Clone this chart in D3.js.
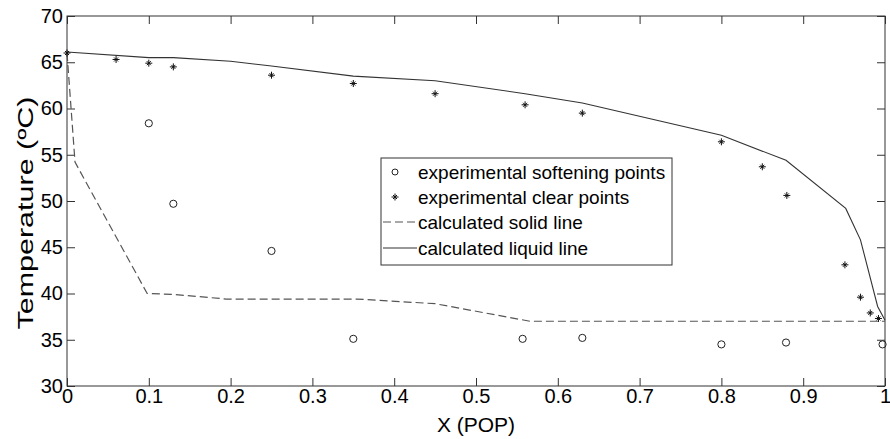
<!DOCTYPE html>
<html><head><meta charset="utf-8">
<script src="https://cdn.jsdelivr.net/npm/d3@7"></script>
<style>body{margin:0;background:#fff}svg{display:block}text{font-family:"Liberation Sans",Arial,sans-serif;fill:#000}</style>
</head><body><svg id="c" width="890" height="439"></svg>
<script>
const xTicks=[0,0.1,0.2,0.3,0.4,0.5,0.6,0.7,0.8,0.9,1];
const xTickLabels=["0","0.1","0.2","0.3","0.4","0.5","0.6","0.7","0.8","0.9","1"];
const yTicks=[30,35,40,45,50,55,60,65,70];
const yTickLabels=["30","35","40","45","50","55","60","65","70"];
const softX=[0.1,0.13,0.25,0.35,0.557,0.63,0.8,0.879,0.997];
const softT=[58.4,49.7,44.6,35.1,35.1,35.2,34.5,34.7,34.5];
const clearX=[0,0.06,0.1,0.13,0.25,0.35,0.45,0.56,0.63,0.8,0.85,0.88,0.951,0.970,0.982,0.992];
const clearT=[66.0,65.3,64.9,64.5,63.6,62.7,61.6,60.4,59.5,56.4,53.7,50.6,43.1,39.6,37.9,37.3];
const solidX=[0,0.0098,0.098,0.13,0.195,0.354,0.45,0.566,1.0];
const solidT=[66.0,54.2,40.0,39.9,39.4,39.4,38.9,37.0,37.0];
const liquidX=[0,0.1,0.13,0.2,0.25,0.35,0.45,0.56,0.63,0.8,0.879,0.952,0.970,0.991,1.0];
const liquidT=[66.1,65.5,65.5,65.1,64.6,63.5,63.0,61.6,60.6,57.1,54.4,49.2,45.8,38.6,37.1];
const legendLabels=["experimental softening points","experimental clear points","calculated solid line","calculated liquid line"];

const svg=d3.select("#c");
const x=d3.scaleLinear().domain([0,1]).range([67,885]);
const y=d3.scaleLinear().domain([30,70]).range([386,16]);
const axCol="#333";
const g=svg.append("g");
g.append("rect").attr("x",x(0)).attr("y",y(70)).attr("width",x(1)-x(0)).attr("height",y(30)-y(70))
 .attr("fill","none").attr("stroke",axCol).attr("stroke-width",1);
const tl=8;
const fmtX=d=>xTickLabels[xTicks.indexOf(d)];
const fmtY=d=>yTickLabels[yTicks.indexOf(d)];
const axB=d3.axisBottom(x).tickValues(xTicks).tickSize(-tl).tickPadding(3).tickFormat(fmtX);
const axT=d3.axisTop(x).tickValues(xTicks).tickSize(-tl).tickFormat("");
const axL=d3.axisLeft(y).tickValues(yTicks).tickSize(-tl).tickPadding(4).tickFormat(fmtY);
const axR=d3.axisRight(y).tickValues(yTicks).tickSize(-tl).tickFormat("");
function style(sel){sel.select(".domain").remove();sel.selectAll("line").attr("stroke",axCol);
 sel.selectAll("text").style("font-size","20px").attr("fill","#000");}
g.append("g").attr("transform",`translate(0,${y(30)})`).call(axB).call(style);
g.append("g").attr("transform",`translate(0,${y(70)})`).call(axT).call(style);
g.append("g").attr("transform",`translate(${x(0)},0)`).call(axL).call(style);
g.append("g").attr("transform",`translate(${x(1)},0)`).call(axR).call(style);

const line=d3.line().x(d=>x(d[0])).y(d=>y(d[1]));
g.append("path").datum(solidX.map((v,i)=>[v,solidT[i]])).attr("d",line)
 .attr("fill","none").attr("stroke","#555").attr("stroke-width",1.2).attr("stroke-dasharray","8,4");
g.append("path").datum(liquidX.map((v,i)=>[v,liquidT[i]])).attr("d",line)
 .attr("fill","none").attr("stroke","#333").attr("stroke-width",1.1);

function star(sel){
 sel.append("path").attr("d","M-3.5,0H3.5M0,-3.5V3.5M-2,-2L2,2M-2,2L2,-2")
  .attr("stroke","#111").attr("stroke-width",1).attr("fill","none");
}
g.selectAll(".soft").data(softX.map((v,i)=>[v,softT[i]])).join("circle")
 .attr("cx",d=>x(d[0])).attr("cy",d=>y(d[1])).attr("r",3.6)
 .attr("fill","none").attr("stroke","#222").attr("stroke-width",1);
g.selectAll(".clr").data(clearX.map((v,i)=>[v,clearT[i]])).join("g")
 .attr("transform",d=>`translate(${x(d[0])},${y(d[1])})`).call(star);

svg.append("text").attr("x",476).attr("y",432).attr("text-anchor","middle").style("font-size","21px").text("X (POP)");
svg.append("text").attr("transform","translate(33,213) rotate(-90)").attr("text-anchor","middle")
 .style("font-size","22px").attr("textLength",233).attr("lengthAdjust","spacingAndGlyphs").text("Temperature (ºC)");

const lg=svg.append("g");
lg.append("rect").attr("x",381).attr("y",158).attr("width",291).attr("height",107)
 .attr("fill","#fff").attr("stroke",axCol).attr("stroke-width",1);
const rows=[172,197,222,248];
rows.forEach((ry,i)=>{
 lg.append("text").attr("x",418).attr("y",ry+7).style("font-size","19px").text(legendLabels[i]);
});
lg.append("circle").attr("cx",395).attr("cy",rows[0]).attr("r",3).attr("fill","none").attr("stroke","#222");
lg.append("g").attr("transform",`translate(395,${rows[1]})`).call(star);
lg.append("line").attr("x1",383).attr("x2",417).attr("y1",rows[2]).attr("y2",rows[2]).attr("stroke","#555").attr("stroke-width",1.2).attr("stroke-dasharray","8,4");
lg.append("line").attr("x1",383).attr("x2",417).attr("y1",rows[3]).attr("y2",rows[3]).attr("stroke","#333").attr("stroke-width",1.1);
</script></body></html>
